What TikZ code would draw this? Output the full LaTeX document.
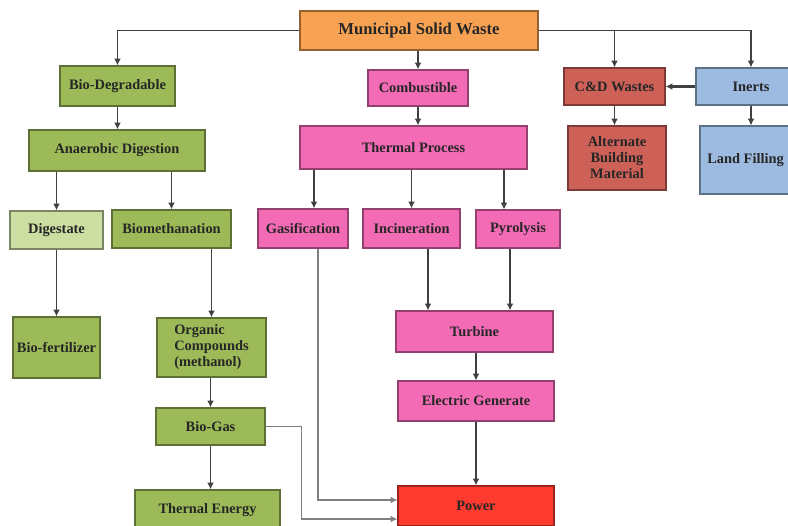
\documentclass[tikz,border=0pt]{standalone}
\usepackage{fontspec}
\setmainfont{Liberation Serif}
\usetikzlibrary{arrows.meta}
\definecolor{msworange}{RGB}{247,162,83}
\definecolor{biogreen}{RGB}{156,187,88}
\definecolor{lightgreen}{RGB}{204,222,162}
\definecolor{combpink}{RGB}{243,107,181}
\definecolor{cdred}{RGB}{205,97,88}
\definecolor{inertblue}{RGB}{157,186,224}
\definecolor{powerred}{RGB}{255,59,48}
\tikzset{
  box/.style={draw=#1!60!black, fill=#1, line width=0.9pt, inner sep=2pt,
    text=black!85, align=center, font=\bfseries\fontsize{10.8}{12}\selectfont},
  conn/.style={draw=black!75, line width=1.4pt, -{Latex[length=5pt,width=5pt]}},
  thinconn/.style={draw=black!50, line width=0.9pt, -{Latex[length=5pt,width=5pt]}}
}
\begin{document}
\begin{tikzpicture}[x=0.75pt,y=-0.75pt]
  \clip (0,0) rectangle (788,525);
  \fill[white] (0,0) rectangle (788,525);
  % top row
  \node[box=msworange, minimum width=178.5pt, minimum height=29.25pt,
    font=\bfseries\fontsize{12.5}{14}\selectfont] (msw) at (419,30.5) {Municipal Solid Waste};
  \node[box=biogreen, minimum width=86.25pt, minimum height=30pt] (biodeg) at (117.5,86) {Bio-Degradable};
  \node[box=combpink, minimum width=75pt, minimum height=27pt] (comb) at (418,88) {Combustible};
  \node[box=cdred, minimum width=75.75pt, minimum height=27.75pt] (cd) at (614.5,86.5) {C\&D Wastes};
  \node[box=inertblue, minimum width=82.5pt, minimum height=27.75pt] (inerts) at (751,86.5) {Inerts};
  % second row
  \node[box=biogreen, minimum width=132pt, minimum height=30.75pt] (anaer) at (117,150.5) {Anaerobic Digestion};
  \node[box=combpink, minimum width=170.25pt, minimum height=32.25pt] (tp) at (413.5,147.5) {Thermal Process};
  \node[box=cdred, minimum width=73.5pt, minimum height=48pt] (abm) at (617,158) {Alternate\\Building\\Material};
  \node[box=inertblue, minimum width=68.25pt, minimum height=51pt] (land) at (745.5,160) {Land Filling};
  % third row
  \node[box=lightgreen, minimum width=69.75pt, minimum height=28.5pt] (dig) at (56.5,230) {Digestate};
  \node[box=biogreen, minimum width=89.25pt, minimum height=28.5pt] (biometh) at (171.5,229) {Biomethanation};
  \node[box=combpink, minimum width=67.5pt, minimum height=29.25pt] (gas) at (303,228.5) {Gasification};
  \node[box=combpink, minimum width=72.75pt, minimum height=29.25pt] (inc) at (411.5,228.5) {Incineration};
  \node[box=combpink, minimum width=63pt, minimum height=28.5pt] (pyro) at (518,229) {Pyrolysis};
  % lower part
  \node[box=biogreen, minimum width=65.25pt, minimum height=45.75pt] (biofert) at (56.5,347.5) {Bio-fertilizer};
  \node[box=biogreen, minimum width=81.75pt, minimum height=44.25pt, align=left] (org) at (211.5,347.5) {Organic\\Compounds\\(methanol)};
  \node[box=combpink, minimum width=117.75pt, minimum height=30.75pt] (turb) at (474.5,331.5) {Turbine};
  \node[box=combpink, minimum width=117pt, minimum height=30pt] (egen) at (476,401) {Electric Generate};
  \node[box=biogreen, minimum width=81.75pt, minimum height=27.75pt] (biogas) at (210.5,426.5) {Bio-Gas};
  \node[box=biogreen, minimum width=108.75pt, minimum height=30pt] (therm) at (207.5,510) {Thernal Energy};
  \node[box=powerred, minimum width=117pt, minimum height=30pt] (power) at (476,506) {Power};
  % connectors
  \draw[conn] (msw.west) -| (biodeg.north);
  \draw[conn] (msw.south -| comb) -- (comb.north);
  \draw[conn] (msw.east) -| (inerts.north);
  \draw[conn] (cd.north |- msw.east) -- (cd.north);
  \draw[conn, line width=2.2pt] (inerts.west) -- (cd.east);
  \draw[conn] (cd.south) -- (cd.south |- abm.north);
  \draw[conn] (inerts.south) -- (inerts.south |- land.north);
  \draw[conn] (biodeg.south) -- (biodeg.south |- anaer.north);
  \draw[conn] (anaer.south -| dig) -- (dig.north);
  \draw[conn] (anaer.south -| biometh) -- (biometh.north);
  \draw[conn] (comb.south) -- (comb.south |- tp.north);
  \draw[conn] ([xshift=8.25pt]gas.north |- tp.south) -- ([xshift=8.25pt]gas.north);
  \draw[conn] (tp.south -| inc) -- (inc.north);
  \draw[conn] ([xshift=-10.5pt]pyro.north |- tp.south) -- ([xshift=-10.5pt]pyro.north);
  \draw[conn] (dig.south) -- (dig.south |- biofert.north);
  \draw[conn] (org.north |- biometh.south) -- (org.north);
  \draw[conn] ([xshift=12.4pt]inc.south) -- ([xshift=12.4pt]inc.south |- turb.north);
  \draw[conn] ([xshift=-6pt]pyro.south) -- ([xshift=-6pt]pyro.south |- turb.north);
  \draw[conn] (turb.south -| egen) -- (egen.north);
  \draw[conn] (egen.south) -- (power.north);
  \draw[conn] (org.south -| biogas) -- (biogas.north);
  \draw[conn] (biogas.south) -- (biogas.south |- therm.north);
  \draw[thinconn] (biogas.east) -- ++(36,0) |- ([yshift=-9.75pt]power.west);
  \draw[thinconn] ([xshift=11.25pt]gas.south) |- ([yshift=4.5pt]power.west);
\end{tikzpicture}
\end{document}
